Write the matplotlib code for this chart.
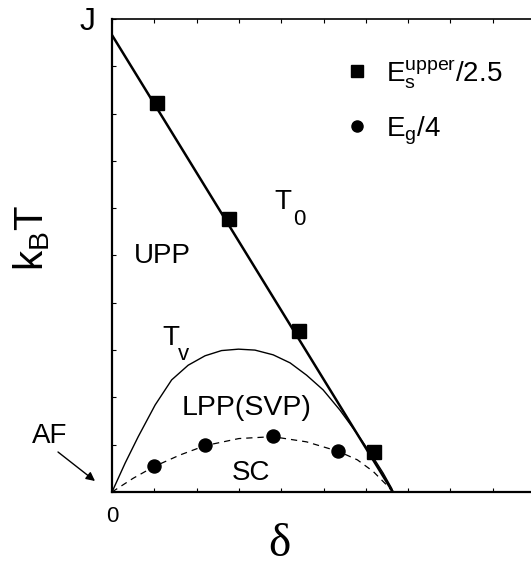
import matplotlib
matplotlib.use("Agg")
import matplotlib.pyplot as plt

plt.rcParams['font.family'] = ['Liberation Sans', 'DejaVu Sans']
plt.rcParams['mathtext.fontset'] = 'custom'
plt.rcParams['mathtext.rm'] = 'Liberation Sans'
plt.rcParams['mathtext.it'] = 'Liberation Sans'
plt.rcParams['mathtext.bf'] = 'Liberation Sans:bold'

# ---- data ----
t0_x = [0.0, 6.64]
t0_y = [9.66, 0.0]

tv_x = [0.0, 0.31, 0.62, 1.02, 1.41, 1.80, 2.20, 2.59, 2.99, 3.38, 3.81,
        4.21, 4.60, 4.99, 5.39, 5.78, 6.17, 6.41, 6.61, 6.64]
tv_y = [0.0, 0.61, 1.17, 1.84, 2.37, 2.68, 2.88, 2.99, 3.02, 3.00, 2.90,
        2.73, 2.47, 2.16, 1.73, 1.25, 0.74, 0.40, 0.08, 0.0]

sc_x = [0.0, 0.5, 1.0, 1.6, 2.2, 3.0, 3.8, 4.6, 5.35, 5.8, 6.18, 6.49, 6.64]
sc_y = [0.0, 0.29, 0.54, 0.78, 0.98, 1.13, 1.17, 1.06, 0.86, 0.68, 0.43, 0.15, 0.0]

es_x = [1.07, 2.77, 4.41, 6.20]
es_y = [8.23, 5.77, 3.41, 0.84]

eg_x = [1.00, 2.20, 3.81, 5.35]
eg_y = [0.55, 0.99, 1.18, 0.87]

xticks = list(range(0, 11))
yticks = list(range(0, 11))
xtick_labels = ['0'] + [''] * 10
ytick_labels = [''] * 10 + ['J']

W, H = 531, 567
fig = plt.figure(figsize=(W / 100, H / 100), dpi=100)
ax = fig.add_axes([112 / W, 1 - 492 / H, 423 / W, 473 / H])
ax.set_xlim(0, 10)
ax.set_ylim(0, 10)

ax.plot(t0_x, t0_y, color='k', lw=1.8, solid_capstyle='butt')
ax.plot(tv_x, tv_y, color='k', lw=1.0)
ax.plot(sc_x, sc_y, color='k', lw=0.9, dashes=(5, 4))
ax.plot(es_x, es_y, 's', color='k', ms=9.4, ls='none',
        label=r'$\mathrm{E}_\mathrm{s}^\mathrm{upper}$/2.5')
ax.plot(eg_x, eg_y, 'o', color='k', ms=9.4, ls='none',
        label=r'$\mathrm{E}_\mathrm{g}$/4')

leg = ax.legend(loc='upper left', bbox_to_anchor=(0.534, 0.941), frameon=False,
                fontsize=20, handlelength=0.6, handletextpad=0.75,
                labelspacing=0.85, markerscale=0.85, borderaxespad=0)

for s in ['left', 'bottom']:
    ax.spines[s].set_linewidth(1.6)
ax.spines['top'].set_linewidth(1.2)
ax.spines['right'].set_visible(False)

ax.set_xticks(xticks)
ax.set_yticks(yticks)
ax.set_xticklabels(xtick_labels, fontsize=16)
ax.set_yticklabels(ytick_labels, fontsize=23)
ax.tick_params(direction='in', length=3, width=0.8, top=True, right=False)
ax.tick_params(axis='x', pad=10)
ax.tick_params(axis='y', pad=12)


def txt(s, x, y, size, **kw):
    ax.annotate(s, xy=(x, H - y), xycoords='figure pixels', fontsize=size,
                ha=kw.pop('ha', 'left'), va=kw.pop('va', 'baseline'), **kw)


txt('UPP', 134, 263, 20)
txt('T', 274, 209, 20)
txt('0', 293, 225, 16)
txt('T', 162, 345, 20)
txt('v', 178, 360, 16)
txt('LPP(SVP)', 182, 415, 20.5)
txt('SC', 232, 480, 20)
txt('AF', 32, 443, 20)
txt('δ', 279, 545, 34, ha='center', va='center', family=['Liberation Serif', 'DejaVu Serif'])
txt(r'k$_\mathrm{B}$T', 43, 238, 29, ha='center', va='baseline', rotation=90,
    rotation_mode='anchor')

ax.annotate('', xy=(95, H - 481), xycoords='figure pixels',
            xytext=(58, H - 452), textcoords='figure pixels',
            arrowprops=dict(arrowstyle='-|>', color='k', lw=1.0,
                            mutation_scale=13, shrinkA=0, shrinkB=0))

fig.savefig('out.png', dpi=100)
